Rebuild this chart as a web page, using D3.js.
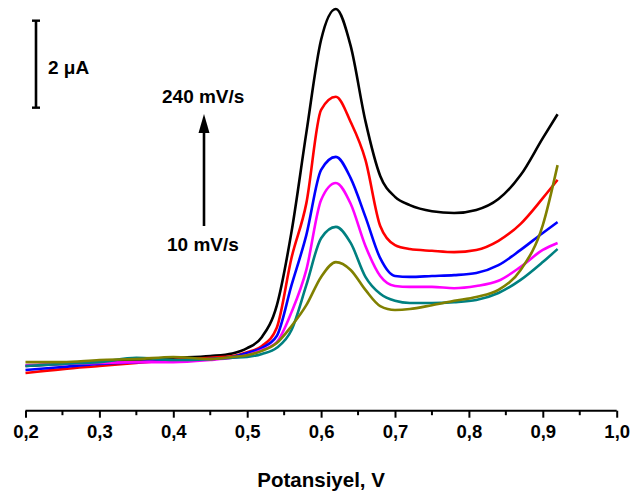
<!DOCTYPE html>
<html>
<head>
<meta charset="utf-8">
<script src="https://cdn.jsdelivr.net/npm/d3@7"></script>
<style>
  html, body { margin: 0; padding: 0; background: #fff; }
  svg { display: block; }
  text { font-family: "Liberation Sans", Arial, Helvetica, sans-serif; font-weight: bold; fill: #000; }
</style>
</head>
<body>
<svg id="chart" width="633" height="495"></svg>
<script>
// ---- data ----
const potential = [0.20, 0.25, 0.30, 0.35, 0.40, 0.45, 0.48, 0.50, 0.52, 0.54, 0.56, 0.58, 0.60, 0.62, 0.64, 0.66, 0.68, 0.70, 0.72, 0.75, 0.78, 0.81, 0.84, 0.87, 0.90, 0.92];
const i240 = [1.01, 1.06, 1.10, 1.15, 1.20, 1.24, 1.30, 1.42, 1.68, 2.40, 4.10, 6.37, 8.51, 9.22, 8.37, 6.64, 5.38, 4.90, 4.71, 4.57, 4.53, 4.60, 4.85, 5.40, 6.25, 6.80];
const i160 = [0.85, 0.94, 1.01, 1.08, 1.15, 1.20, 1.24, 1.33, 1.47, 1.89, 3.50, 4.75, 6.90, 7.20, 6.62, 5.75, 4.23, 3.79, 3.70, 3.66, 3.63, 3.68, 3.89, 4.28, 4.87, 5.29];
const i100 = [0.92, 0.99, 1.06, 1.10, 1.13, 1.17, 1.22, 1.31, 1.43, 1.70, 2.87, 4.02, 5.52, 5.82, 5.33, 4.44, 3.49, 3.08, 3.06, 3.08, 3.10, 3.15, 3.33, 3.68, 4.07, 4.32];
const i50  = [1.03, 1.06, 1.08, 1.10, 1.10, 1.15, 1.20, 1.26, 1.38, 1.56, 2.25, 3.22, 4.83, 5.22, 4.74, 3.77, 3.08, 2.85, 2.83, 2.83, 2.80, 2.85, 2.97, 3.29, 3.68, 3.84];
const i25  = [1.01, 1.06, 1.10, 1.20, 1.15, 1.17, 1.20, 1.22, 1.29, 1.43, 1.84, 2.87, 3.95, 4.21, 3.84, 3.06, 2.67, 2.51, 2.46, 2.46, 2.48, 2.53, 2.69, 2.99, 3.40, 3.70];
const i10  = [1.10, 1.10, 1.15, 1.17, 1.22, 1.17, 1.22, 1.26, 1.36, 1.54, 1.93, 2.41, 3.06, 3.40, 3.22, 2.76, 2.39, 2.30, 2.32, 2.41, 2.51, 2.60, 2.76, 3.22, 4.25, 5.63];
const seriesColors = ["#000000", "#ff0000", "#0000ff", "#ff00ff", "#008080", "#808000"];
const seriesValues = [i240, i160, i100, i50, i25, i10];
const xTicks = [0.2, 0.3, 0.4, 0.5, 0.6, 0.7, 0.8, 0.9, 1.0];
const xMinorTicks = [0.25, 0.35, 0.45, 0.55, 0.65, 0.75, 0.85, 0.95];
const xTitle = "Potansiyel, V";
const scaleBar = [6.95, 8.95];   // µA, a 2 µA bar
const scaleLabel = "2 μA";
const arrowFrom = "10 mV/s", arrowTo = "240 mV/s";

// ---- drawing ----
const svg = d3.select("#chart");
const x = d3.scaleLinear().domain([0.2, 1.0]).range([25.5, 616.7]);
const y = d3.scaleLinear().domain([0, 9.4]).range([410, 1.1]);

// curves
const line = d3.line().x(d => x(d[0])).y(d => y(d[1])).curve(d3.curveMonotoneX);
seriesValues.forEach((vals, k) => {
  svg.append("path")
    .datum(potential.map((v, i) => [v, vals[i]]))
    .attr("d", line)
    .attr("fill", "none")
    .attr("stroke", seriesColors[k])
    .attr("stroke-width", 2.6)
    .attr("stroke-linejoin", "round");
});

// x axis
const axisY = 410.7;
const axis = d3.axisBottom(x).tickValues(xTicks).tickSize(7).tickPadding(7)
  .tickFormat(d => d3.format(".1f")(d).replace(".", ","));
const gx = svg.append("g").attr("transform", `translate(0,${axisY})`).call(axis);
gx.select(".domain").attr("stroke", "#000").attr("stroke-width", 2).attr("d", `M${x(0.2)},0H${x(1.0)}`);
gx.selectAll(".tick line").attr("stroke", "#000").attr("stroke-width", 2);
gx.selectAll(".tick text").attr("font-size", 18.5).attr("font-family", "'Liberation Sans', Arial, sans-serif").attr("font-weight", "bold").attr("fill", "#000");
gx.selectAll(".minor").data(xMinorTicks).enter().append("line")
  .attr("x1", d => x(d)).attr("x2", d => x(d)).attr("y1", 0).attr("y2", 4.5)
  .attr("stroke", "#000").attr("stroke-width", 2);

svg.append("text").attr("x", (x(0.2) + x(1.0)) / 2).attr("y", 487)
  .attr("text-anchor", "middle").attr("font-size", 20.5).text(xTitle);

// scale bar
const sbX = 36;
svg.append("line").attr("x1", sbX).attr("x2", sbX).attr("y1", y(scaleBar[0])).attr("y2", y(scaleBar[1]))
  .attr("stroke", "#000").attr("stroke-width", 2.6);
scaleBar.forEach(v => svg.append("line").attr("x1", sbX - 4).attr("x2", sbX + 4).attr("y1", y(v)).attr("y2", y(v))
  .attr("stroke", "#000").attr("stroke-width", 2.4));
svg.append("text").attr("x", 48).attr("y", 74).attr("font-size", 19).text(scaleLabel);

// arrow
const ax = 204;
svg.append("line").attr("x1", ax).attr("x2", ax).attr("y1", 226).attr("y2", 130)
  .attr("stroke", "#000").attr("stroke-width", 2.6);
svg.append("path").attr("d", `M${ax},114L${ax - 5.5},133L${ax + 5.5},133Z`).attr("fill", "#000");
svg.append("text").attr("x", 162).attr("y", 103).attr("font-size", 19).text(arrowTo);
svg.append("text").attr("x", 167).attr("y", 251).attr("font-size", 19).text(arrowFrom);
</script>
</body>
</html>
